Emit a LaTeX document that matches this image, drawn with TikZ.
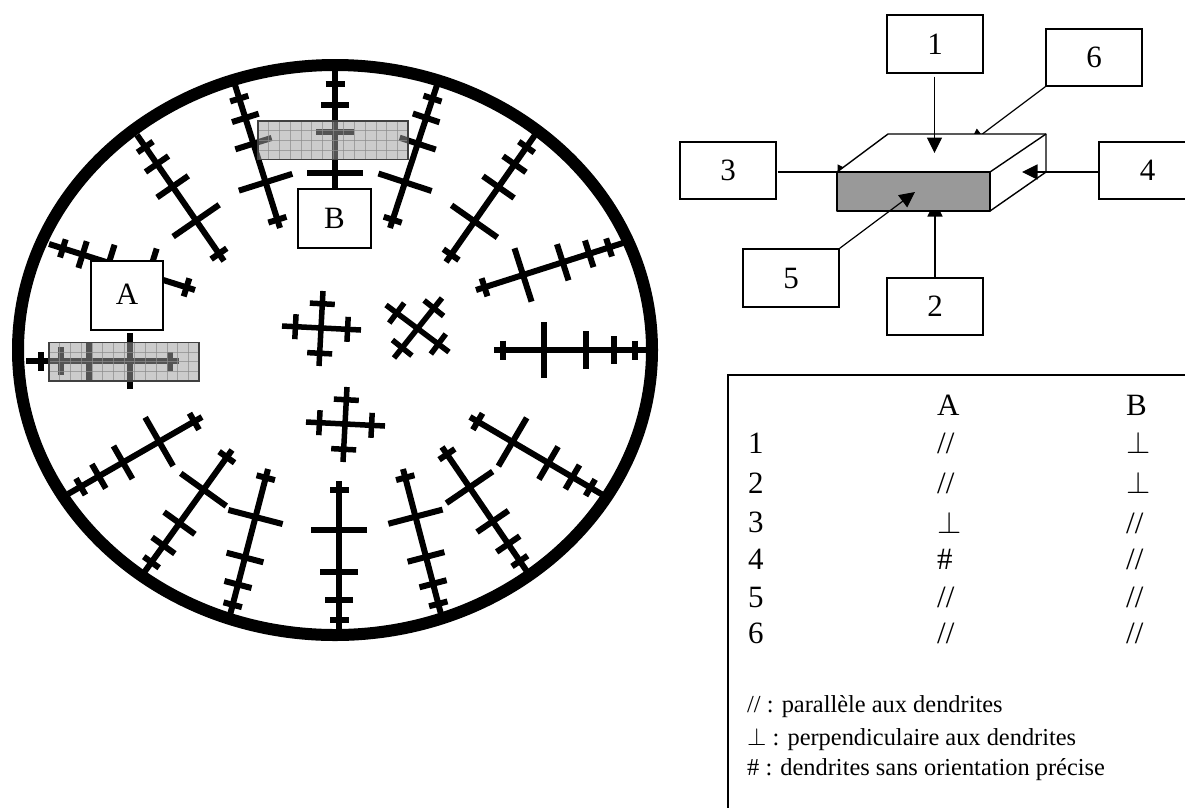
\documentclass[tikz,border=0pt]{standalone}
\usepackage{graphicx}
\usepackage{fontspec}
\setmainfont{Liberation Serif}
\usetikzlibrary{calc,arrows.meta}
\tikzset{
  dline/.style={line width=6pt,line cap=butt},
  xline/.style={line width=5.5pt,line cap=butt},
  labelbox/.style={draw=black,line width=1.4pt,fill=white,inner sep=0pt,font=\bigtxt},
  cellbox/.style={draw=black,line width=1.6pt,fill=white,inner sep=0pt,font=\bigtxt},
  gridbox/.style={draw=black!75,line width=1.3pt},
  gridfill/.style={fill=black!38,fill opacity=.53},
  gridline/.style={draw=black!45,line width=.6pt,opacity=.7},
  conn/.style={line width=1.2pt,-{Triangle[length=15.5pt,width=15pt]}},
  edge line/.style={line width=1.4pt,line join=round},
  big/.style={anchor=base west,inner sep=0pt,font=\bigtxt},
  small/.style={anchor=base west,inner sep=0pt,font=\smalltxt}
}
\newcommand{\bigtxt}{\fontsize{31pt}{36pt}\selectfont}
\newcommand{\smalltxt}{\fontsize{24.4pt}{28pt}\selectfont}
\newcommand{\bigperp}{\scalebox{1.25}{$\perp$}}
\newcommand{\smallperp}{\scalebox{1}{$\perp$}}
\newcommand{\dend}[4]{%
  \draw[dline] (#1,#2)--(#3,#4);
  \foreach \f/\h in {.058/9.5,.32/28,.59/19,.77/14,.905/9.5}{
    \coordinate (P) at ($(#1,#2)!\f!(#3,#4)$);
    \draw[dline] ($(P)!\h pt!90:(#3,#4)$) -- ($(P)!\h pt!-90:(#3,#4)$);
  }}
\newcommand{\xbar}[4]{%
  \draw[xline] (#1,#2)--(#3,#4);
  \foreach \f in {.17,.83}{
    \coordinate (P) at ($(#1,#2)!\f!(#3,#4)$);
    \draw[xline] ($(P)!12.5pt!90:(#3,#4)$) -- ($(P)!12.5pt!-90:(#3,#4)$);
  }}
\newcommand{\gridrect}[2]{%
  \fill[gridfill] (#1,#2) rectangle ++(150,38.5);
  \foreach \i in {1,...,13}{\draw[gridline] ($(#1,#2)+(\i*10.71,0)$) -- ++(0,38.5);}
  \foreach \j in {1,2,3}{\draw[gridline] ($(#1,#2)+(0,\j*9.63)$) -- ++(150,0);}
  \draw[gridbox] (#1,#2) rectangle ++(150,38.5);}
\begin{document}
\begin{tikzpicture}[x=1pt,y=-1pt]
\useasboundingbox (0,0) rectangle (1185,807);
% peripheral dendrites
\dend{494}{350}{650}{350}
\dend{476}{290}{623}{243}
\dend{446}{262}{535}{135}
\dend{390}{228}{437}{85}
\dend{335}{222}{335}{70}
\dend{280}{228}{235}{85}
\dend{224}{261}{137}{135}
\dend{195}{290}{49}{244}
\dend{179}{361}{26}{361}
\dend{202}{417}{68}{494}
\dend{232}{450}{143}{574}
\dend{268}{469}{229}{619}
\dend{339}{481}{339}{635}
\dend{403}{469}{442}{618}
\dend{442}{447}{528}{573}
\dend{470}{417}{603}{495}
% central stars
\xbar{323}{291}{319}{366}
\xbar{282}{326}{361}{330}
\xbar{347}{387}{343}{462}
\xbar{306}{422}{385}{426}
\xbar{386}{305}{449}{352}
\xbar{442}{298}{394}{358}
% soma outline
\draw[line width=12pt] (335,350) ellipse [x radius=317,y radius=285];
% boxes A, B
\node[cellbox,minimum width=72pt,minimum height=69pt] (boxA) at (127,295.5) {\raisebox{3pt}{A}};
\node[cellbox,minimum width=73pt,minimum height=59pt] (boxB) at (334.5,218.5) {B};
% overlays
\gridrect{49}{342.5}
\gridrect{258}{121}
% numbered boxes
\node[labelbox,minimum width=96pt,minimum height=58pt] (b1) at (935,44) {1};
\node[labelbox,minimum width=96pt,minimum height=57pt] (b6) at (1094,57.5) {6};
\node[labelbox,minimum width=96pt,minimum height=57pt] (b3) at (728,170.5) {3};
\node[labelbox,minimum width=97pt,minimum height=57pt] (b4) at (1147.5,170.5) {4};
\node[labelbox,minimum width=96pt,minimum height=58pt] (b5) at (791,278) {5};
\node[labelbox,minimum width=96pt,minimum height=57pt] (b2) at (935,306.5) {2};
% connector ends
\coordinate (t1) at (934.5,153);
\coordinate (t2) at (935,201);
\coordinate (t3) at (853,172);
\coordinate (t4) at (1022,172);
\coordinate (t5) at (915,192);
\coordinate (t6) at (969,144);
% connectors behind the block
\draw[conn] (t2 |- b2.north) -- (t2);
\draw[conn,shorten <=1pt] (t3 -| b3.east) -- (t3);
\draw[conn] (b6.south west) -- (t6);
% block
\filldraw[edge line,fill=white] (837,172) -- (888,134) -- (1046,134) -- (1046,172) -- (990,211) -- (990,172) -- cycle;
\draw[edge line] (990,172) -- (1046,134);
\filldraw[edge line,fill=black!40] (837,172) rectangle (990,211);
% connectors in front
\draw[conn,shorten <=3pt] (t1 |- b1.south) -- (t1);
\draw[conn] (t4 -| b4.west) -- (t4);
\draw[conn] (b5.north east) -- (t5);
% table
\coordinate (tl) at (728,375);
\coordinate (tr) at (1190,375);
\coordinate (bl) at (728,812);
\draw[line width=1.5pt] (tr) -- (tl) -- (bl);
\node[big] (hA) at (937,415) {A};
\node[big] (hB) at (1126,415) {B};
\node[big] (r1) at (748,453) {1};
\node[big] (r2) at (748,493) {2};
\node[big] (r3) at (748,532) {3};
\node[big] (r4) at (748,569) {4};
\node[big] (r5) at (748,607) {5};
\node[big] (r6) at (748,643) {6};
\node[big] (a1) at (937,453) {//};
\node[big] (a2) at (937,493) {//};
\node[big] (a3) at (937,533) {\bigperp};
\node[big] (a4) at (937,569) {\#};
\node[big] (a5) at (937,607) {//};
\node[big] (a6) at (937,643) {//};
\node[big] (c1) at (1126,453) {\bigperp};
\node[big] (c2) at (1126,493) {\bigperp};
\node[big] (c3) at (1126,533) {//};
\node[big] (c4) at (1126,569) {//};
\node[big] (c5) at (1126,607) {//};
\node[big] (c6) at (1126,643) {//};
\node[small] (l1) at (747,712) {// : parallèle aux dendrites};
\node[small] (l2) at (747,745) {\smallperp{} : perpendiculaire aux dendrites};
\node[small] (l3) at (747,775) {\# : dendrites sans orientation précise};
\end{tikzpicture}
\end{document}
